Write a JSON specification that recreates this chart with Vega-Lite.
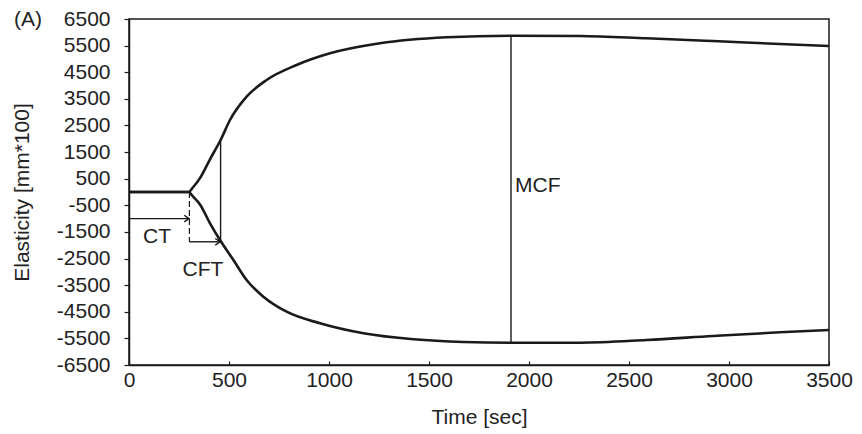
{
  "$schema": "https://vega.github.io/schema/vega-lite/v6.json",
  "width": 700,
  "height": 346,
  "autosize": {"type": "none"},
  "padding": {"left": 129, "top": 19, "right": 33, "bottom": 69},
  "background": "#ffffff",
  "title": {
    "text": "(A)",
    "anchor": "start",
    "frame": "group",
    "orient": "top",
    "offset": 0,
    "baseline": "middle",
    "dx": -115,
    "dy": 33,
    "fontSize": 21,
    "fontWeight": "normal",
    "color": "#222222"
  },
  "config": {
    "font": "Liberation Sans",
    "view": {"stroke": "#1a1a1a", "strokeWidth": 1.5},
    "axis": {
      "grid": false,
      "domainColor": "#1a1a1a",
      "domainWidth": 1.5,
      "tickColor": "#1a1a1a",
      "tickWidth": 1.2,
      "labelFont": "Liberation Sans",
      "labelFontSize": 21,
      "labelColor": "#222222",
      "labelFlush": false,
      "labelExpr": "'' + datum.value",
      "titleFont": "Liberation Sans",
      "titleFontSize": 21,
      "titleFontWeight": "normal",
      "titleColor": "#222222"
    }
  },
  "datasets": {
    "curve": [
      {"branch": "upper", "t": 0, "v": 0},
      {"branch": "upper", "t": 300, "v": 0},
      {"branch": "upper", "t": 315, "v": 130},
      {"branch": "upper", "t": 355, "v": 520},
      {"branch": "upper", "t": 405, "v": 1230},
      {"branch": "upper", "t": 458, "v": 1954},
      {"branch": "upper", "t": 505, "v": 2705},
      {"branch": "upper", "t": 588, "v": 3581},
      {"branch": "upper", "t": 688, "v": 4208},
      {"branch": "upper", "t": 838, "v": 4772},
      {"branch": "upper", "t": 1005, "v": 5211},
      {"branch": "upper", "t": 1255, "v": 5587},
      {"branch": "upper", "t": 1588, "v": 5812},
      {"branch": "upper", "t": 1905, "v": 5873},
      {"branch": "upper", "t": 2255, "v": 5861},
      {"branch": "upper", "t": 2588, "v": 5775},
      {"branch": "upper", "t": 2920, "v": 5673},
      {"branch": "upper", "t": 3255, "v": 5561},
      {"branch": "upper", "t": 3500, "v": 5486},
      {"branch": "lower", "t": 0, "v": 0},
      {"branch": "lower", "t": 300, "v": 0},
      {"branch": "lower", "t": 315, "v": -130},
      {"branch": "lower", "t": 355, "v": -470},
      {"branch": "lower", "t": 405, "v": -1176},
      {"branch": "lower", "t": 455, "v": -1804},
      {"branch": "lower", "t": 522, "v": -2555},
      {"branch": "lower", "t": 588, "v": -3307},
      {"branch": "lower", "t": 672, "v": -3934},
      {"branch": "lower", "t": 788, "v": -4498},
      {"branch": "lower", "t": 955, "v": -4933},
      {"branch": "lower", "t": 1172, "v": -5309},
      {"branch": "lower", "t": 1422, "v": -5535},
      {"branch": "lower", "t": 1672, "v": -5636},
      {"branch": "lower", "t": 1905, "v": -5662},
      {"branch": "lower", "t": 2255, "v": -5662},
      {"branch": "lower", "t": 2588, "v": -5561},
      {"branch": "lower", "t": 2920, "v": -5411},
      {"branch": "lower", "t": 3255, "v": -5272},
      {"branch": "lower", "t": 3500, "v": -5185}
    ],
    "verticals": [
      {"name": "CFT", "t": 458, "top": 1954, "bottom": -1850},
      {"name": "MCF", "t": 1910, "top": 5873, "bottom": -5662}
    ],
    "dashed": [
      {"t": 302, "top": 0, "bottom": -1870}
    ],
    "arrows": [
      {"name": "CT", "from": 0, "to": 300, "level": -1000},
      {"name": "CFT", "from": 302, "to": 455, "level": -1870}
    ],
    "labels": [
      {"text": "CT", "t": 140, "v": -1690},
      {"text": "CFT", "t": 370, "v": -2930}
    ],
    "sideLabels": [
      {"text": "MCF", "t": 1930, "v": 225}
    ]
  },
  "encoding": {
    "x": {
      "type": "quantitative",
      "scale": {"domain": [0, 3500], "nice": false},
      "axis": {
        "title": "Time [sec]",
        "values": [0, 500, 1000, 1500, 2000, 2500, 3000, 3500],
        "tickSize": -4,
        "labelPadding": 8,
        "titlePadding": 16
      }
    },
    "y": {
      "type": "quantitative",
      "scale": {"domain": [-6500, 6500], "nice": false},
      "axis": {
        "title": "Elasticity [mm*100]",
        "values": [-6500, -5500, -4500, -3500, -2500, -1500, -500, 500, 1500, 2500, 3500, 4500, 5500, 6500],
        "tickSize": 5,
        "labelPadding": 14,
        "titlePadding": 24
      }
    }
  },
  "layer": [
    {
      "data": {"name": "curve"},
      "mark": {"type": "line", "color": "#1a1a1a", "strokeWidth": 2.6, "interpolate": "monotone"},
      "encoding": {
        "x": {"field": "t", "type": "quantitative"},
        "y": {"field": "v", "type": "quantitative"},
        "detail": {"field": "branch"}
      }
    },
    {
      "data": {"name": "verticals"},
      "mark": {"type": "rule", "color": "#1a1a1a", "strokeWidth": 1.4},
      "encoding": {
        "x": {"field": "t", "type": "quantitative"},
        "y": {"field": "top", "type": "quantitative"},
        "y2": {"field": "bottom"}
      }
    },
    {
      "data": {"name": "dashed"},
      "mark": {"type": "rule", "color": "#1a1a1a", "strokeWidth": 1.2, "strokeDash": [6, 3]},
      "encoding": {
        "x": {"field": "t", "type": "quantitative"},
        "y": {"field": "top", "type": "quantitative"},
        "y2": {"field": "bottom"}
      }
    },
    {
      "data": {"name": "arrows"},
      "mark": {"type": "rule", "color": "#1a1a1a", "strokeWidth": 1.4},
      "encoding": {
        "x": {"field": "from", "type": "quantitative"},
        "x2": {"field": "to"},
        "y": {"field": "level", "type": "quantitative"}
      }
    },
    {
      "data": {"name": "arrows"},
      "mark": {
        "type": "point",
        "shape": "M-1,-0.7L0,0L-1,0.7",
        "filled": false,
        "stroke": "#1a1a1a",
        "strokeWidth": 1.4,
        "size": 90,
        "opacity": 1
      },
      "encoding": {
        "x": {"field": "to", "type": "quantitative"},
        "y": {"field": "level", "type": "quantitative"}
      }
    },
    {
      "data": {"name": "labels"},
      "mark": {"type": "text", "fontSize": 21, "color": "#222222", "baseline": "middle", "align": "center"},
      "encoding": {
        "x": {"field": "t", "type": "quantitative"},
        "y": {"field": "v", "type": "quantitative"},
        "text": {"field": "text"}
      }
    },
    {
      "data": {"name": "sideLabels"},
      "mark": {"type": "text", "fontSize": 21, "color": "#222222", "baseline": "middle", "align": "left"},
      "encoding": {
        "x": {"field": "t", "type": "quantitative"},
        "y": {"field": "v", "type": "quantitative"},
        "text": {"field": "text"}
      }
    }
  ]
}
